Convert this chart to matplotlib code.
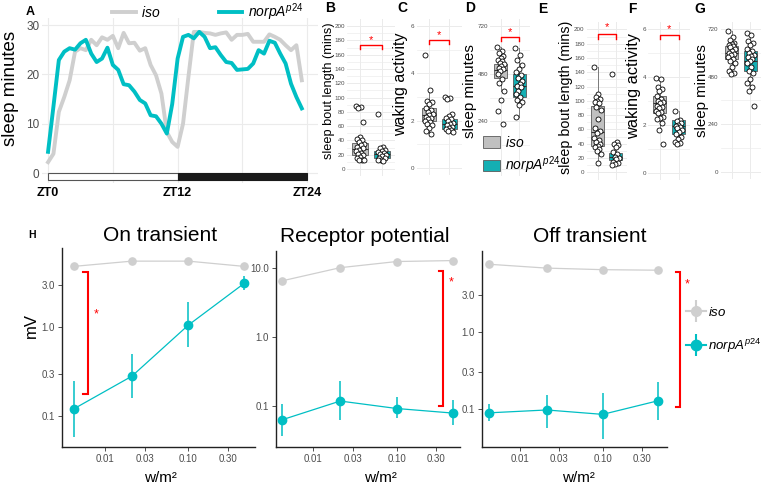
import numpy as np
import matplotlib
matplotlib.use('Agg')
import matplotlib.pyplot as plt
from matplotlib.patches import Rectangle, Patch
from matplotlib.lines import Line2D

plt.rcParams['font.family'] = ['Liberation Sans', 'DejaVu Sans']
plt.rcParams['mathtext.fontset'] = 'custom'
plt.rcParams['mathtext.it'] = 'Liberation Sans:italic'
plt.rcParams['mathtext.rm'] = 'Liberation Sans'

# ---- data -------------------------------------------------------------
# A: sleep per 30 min bin over the day
zt = np.arange(0, 24, 0.5)
sleep_iso = [2.2, 3.9, 12.4, 15.4, 18.8, 24.6, 25.3, 24.9, 27.0, 25.9,
             27.5, 27.0, 27.8, 25.3, 28.4, 26.3, 26.4, 24.8, 25.3, 21.9,
             19.8, 16.1, 8.3, 6.3, 5.3, 10.0, 19.5, 28.6, 28.6, 28.4,
             28.3, 28.0, 28.3, 28.5, 27.0, 28.0, 28.0, 28.2, 26.6, 26.6,
             26.6, 28.1, 27.6, 27.0, 25.9, 24.9, 25.9, 18.8]
sleep_norp = [4.3, 13.5, 22.9, 24.6, 25.3, 25.0, 26.3, 27.0, 24.2, 22.5,
              23.2, 25.4, 21.9, 20.9, 18.0, 17.8, 16.5, 14.8, 14.1, 11.7,
              11.5, 10.0, 8.0, 14.0, 23.2, 27.6, 28.0, 27.3, 28.6, 27.6,
              25.3, 25.5, 23.9, 22.5, 22.3, 20.9, 21.0, 21.1, 22.2, 24.9,
              24.2, 26.8, 26.4, 24.2, 22.2, 18.1, 15.4, 13.1]

# B-G: individual flies and box stats (q1, median, q3, whisker low, whisker high)
B_iso = [88, 87, 86, 66, 45, 42, 40, 38, 35, 33, 31, 29, 27, 25, 23, 21, 19, 17, 15, 13, 12, 12]
B_norp = [77, 31, 29, 27, 25, 24, 22, 21, 20, 18, 16, 15, 13, 12, 11]
B_box_iso = [20, 28, 36, 12, 45]
B_box_norp = [16, 21, 25, 11, 31]

C_iso = [4.78, 3.3, 2.85, 2.8, 2.7, 2.55, 2.45, 2.35, 2.28, 2.22, 2.15, 2.1, 2.05, 2.0,
         1.95, 1.88, 1.8, 1.7, 1.55, 1.45]
C_norp = [3.02, 2.95, 2.9, 2.3, 2.2, 2.1, 2.05, 1.98, 1.92, 1.85, 1.8, 1.75, 1.7, 1.65,
          1.6, 1.55, 1.5]
C_box_iso = [2.0, 2.22, 2.52, 1.45, 3.3]
C_box_norp = [1.63, 1.85, 2.08, 1.5, 2.3]

D_iso = [615, 595, 585, 568, 560, 551, 543, 535, 527, 518, 510, 502, 495, 477, 452, 435,
         394, 347, 294, 228]
D_norp = [610, 575, 550, 525, 505, 490, 475, 460, 445, 430, 420, 412, 395, 380, 365, 350,
          340, 325, 261]
D_box_iso = [457, 497, 530, 394, 615]
D_box_norp = [364, 419, 480, 261, 610]

E_iso = [148, 110, 105, 103, 100, 99, 97, 92, 87, 74, 62, 58, 55, 48, 45, 43, 40, 37, 35,
         32, 30, 25, 13]
E_norp = [138, 42, 40, 38, 35, 28, 25, 22, 20, 18, 15, 13, 12, 10]
E_box_iso = [37, 57, 93, 13, 148]
E_box_norp = [17, 22, 27, 10, 42]

F_iso = [3.95, 3.9, 3.6, 3.5, 3.4, 3.2, 3.1, 3.0, 2.95, 2.9, 2.8, 2.75, 2.7, 2.6, 2.55,
         2.5, 2.35, 2.3, 2.25, 2.1, 1.8, 1.2]
F_norp = [2.6, 2.2, 2.15, 2.1, 2.0, 1.95, 1.9, 1.85, 1.8, 1.7, 1.6, 1.5, 1.4, 1.3, 1.25, 1.2]
F_box_iso = [2.49, 2.9, 3.23, 1.8, 3.95]
F_box_norp = [1.6, 1.96, 2.2, 1.2, 2.6]

G_iso = [710, 680, 665, 650, 645, 640, 635, 630, 620, 610, 600, 595, 590, 580, 570, 560,
         550, 530, 510, 500, 495]
G_norp = [700, 690, 660, 650, 640, 620, 610, 600, 590, 585, 580, 570, 560, 550, 530, 510,
          500, 470, 450, 430, 410, 334]
G_box_iso = [569, 602, 635, 495, 710]
G_box_norp = [510, 560, 610, 410, 700]

# H: ERG components vs light intensity
light = [0.0042, 0.021, 0.1, 0.47]
on_iso = [4.8, 5.5, 5.5, 4.8]
on_norp = [0.12, 0.28, 1.05, 3.1]
on_norp_lo = [0.058, 0.16, 0.59, 2.6]
on_norp_hi = [0.25, 0.5, 1.93, 3.7]
rp_iso = [6.5, 10.1, 12.4, 12.8]
rp_norp = [0.063, 0.118, 0.092, 0.079]
rp_norp_lo = [0.037, 0.062, 0.066, 0.0525]
rp_norp_hi = [0.108, 0.23, 0.134, 0.124]
off_iso = [7.4, 6.6, 6.3, 6.2]
off_norp = [0.09, 0.098, 0.086, 0.129]
off_norp_lo = [0.071, 0.058, 0.042, 0.072]
off_norp_hi = [0.117, 0.154, 0.164, 0.222]

# ---- figure -----------------------------------------------------------
W, H = 764, 490
fig = plt.figure(figsize=(W / 100, H / 100), dpi=100)

def px(l, t, r, b):
    return [l / W, 1 - b / H, (r - l) / W, (b - t) / H]

def ftext(x, y, s, **kw):
    fig.text(x / W, 1 - y / H, s, ha=kw.pop('ha', 'center'), va=kw.pop('va', 'center'), **kw)

TEAL = '#00BFC4'
GREY = '#CFCFCF'
BOX_TEAL = '#14AFB3'
BOX_GREY = '#C0C0C0'
GRID = '#EBEBEB'
TICK = '#4D4D4D'
ISO_LAB = r'$iso$'
NORP_LAB = r'$norpA^{p24}$'

# ---- A ----
axA = fig.add_axes(px(42, 17.6, 318, 182.9))
axA.plot(zt, sleep_iso, color=GREY, lw=2.8)
axA.plot(zt, sleep_norp, color=TEAL, lw=2.8)
axA.add_patch(Rectangle((0, -1.4), 12, 1.4, fc='white', ec='#555555', lw=0.8))
axA.add_patch(Rectangle((12, -1.4), 12, 1.4, fc='#1A1A1A', ec='#1A1A1A', lw=0.8))
axA.set_xlim(-0.56, 25.0)
axA.set_ylim(-2, 31.5)
axA.set_yticks([0, 10, 20, 30])
axA.set_xticks([0, 12, 24])
axA.set_xticklabels(['ZT0', 'ZT12', 'ZT24'], fontweight='bold', fontsize=9)
axA.set_xticks([6, 18], minor=True)
axA.grid(True, which='both', axis='x', color=GRID, lw=0.8)
axA.grid(True, which='major', axis='y', color=GRID, lw=0.8)
axA.set_axisbelow(True)
axA.tick_params(axis='y', labelsize=8.5, labelcolor=TICK, length=0, pad=2)
axA.tick_params(axis='x', which='both', length=0, pad=3)
for s in axA.spines.values():
    s.set_visible(False)
ftext(11, 88, 'sleep minutes', rotation=90, fontsize=13.5)
ftext(30, 12, 'A', fontweight='bold', fontsize=9)
fig.legend([Line2D([], [], color=GREY, lw=2.8), Line2D([], [], color=TEAL, lw=2.8)],
           [ISO_LAB, NORP_LAB], loc='center left', bbox_to_anchor=(112 / W, 1 - 12 / H),
           ncol=2, frameon=False, fontsize=10, handlelength=1.7, handletextpad=0.4,
           columnspacing=4.2, borderpad=0, borderaxespad=0)

# ---- B-G ----
def boxpanel(rect, iso, norp, box_iso, box_norp, ylim, ticks, minor, ylabel, lab_xy,
             letter, let_xy, bracket=None):
    ax = fig.add_axes(px(*rect))
    stats = []
    for b in (box_iso, box_norp):
        stats.append(dict(q1=b[0], med=b[1], q3=b[2], whislo=b[3], whishi=b[4]))
    bp = ax.bxp(stats, positions=[1, 2], widths=0.72, showfliers=False, showcaps=False,
                patch_artist=True,
                boxprops=dict(ec='#5A5A5A', lw=0.6),
                medianprops=dict(color='#333333', lw=0.8),
                whiskerprops=dict(color='#7A7A7A', lw=0.7))
    bp['boxes'][0].set_facecolor(BOX_GREY)
    bp['boxes'][1].set_facecolor(BOX_TEAL)
    for pos, pts in ((1, iso), (2, norp)):
        n = len(pts)
        jit = ((np.arange(n) * 0.618) % 1 - 0.5) * 0.4
        ax.scatter(pos + jit, pts, s=13, facecolor='white', edgecolor='black',
                   lw=0.6, zorder=4)
    if bracket is not None:
        ylo, yhi, ystar = bracket
        ax.plot([1, 1, 2, 2], [ylo, yhi, yhi, ylo], color='red', lw=1.0)
        ax.text(1.5, ystar, '*', color='red', ha='center', va='center', fontsize=8)
    ax.set_xlim(0.4, 2.6)
    ax.set_ylim(*ylim)
    ax.set_yticks(ticks)
    ax.set_yticks(minor, minor=True)
    ax.set_xticks([1, 2])
    ax.set_xticklabels([])
    ax.grid(True, which='major', color=GRID, lw=0.7)
    ax.grid(True, which='minor', axis='y', color=GRID, lw=0.45)
    ax.set_axisbelow(True)
    ax.tick_params(which='both', length=0)
    ax.tick_params(axis='y', labelsize=4.5, labelcolor=TICK, pad=1.5)
    for s in ax.spines.values():
        s.set_visible(False)
    ftext(lab_xy[0], lab_xy[1], ylabel, rotation=90, fontsize=lab_xy[2])
    ftext(let_xy[0], let_xy[1], letter, fontweight='bold', fontsize=10)
    return ax

boxpanel((347, 18.9, 395, 176.2), B_iso, B_norp, B_box_iso, B_box_norp, (-10, 210),
         range(0, 201, 20), range(10, 200, 20), 'sleep bout length (mins)', (329, 91, 9.2),
         'B', (330, 8), bracket=(167.5, 173.5, 181))
boxpanel((416.7, 18.9, 461.7, 175.1), C_iso, C_norp, C_box_iso, C_box_norp, (-0.3, 6.3),
         [0, 2, 4, 6], [1, 3, 5], 'waking activity', (401, 84, 11.5),
         'C', (402, 8), bracket=(5.22, 5.41, 5.62))
boxpanel((490, 18.9, 530, 176.2), D_iso, D_norp, D_box_iso, D_box_norp, (-36, 756),
         [0, 240, 480, 720], [120, 360, 600], 'sleep minutes', (470, 91, 11),
         'D', (470, 8), bracket=(646, 664, 692))
boxpanel((586.7, 22.2, 626.7, 179.5), E_iso, E_norp, E_box_iso, E_box_norp, (-10, 210),
         range(0, 201, 20), range(10, 200, 20), 'sleep bout length (mins)', (566, 97, 10.3),
         'E', (543, 9), bracket=(187, 194, 203))
boxpanel((648.3, 22.1, 690, 179.9), F_iso, F_norp, F_box_iso, F_box_norp, (-0.3, 6.3),
         [0, 2, 4, 6], [1, 3, 5], 'waking activity', (634, 86, 11.8),
         'F', (632, 9), bracket=(5.6, 5.78, 5.99))
boxpanel((720.7, 22.2, 761.3, 178.8), G_iso, G_norp, G_box_iso, G_box_norp, (-36, 756),
         [0, 240, 480, 720], [120, 360, 600], 'sleep minutes', (702, 91, 10.8),
         'G', (700, 9))

fig.legend([Patch(fc=BOX_GREY, ec='#5A5A5A', lw=0.6), Patch(fc=BOX_TEAL, ec='#5A5A5A', lw=0.6)],
           [ISO_LAB, NORP_LAB], loc='upper left', bbox_to_anchor=(483 / W, 1 - 135 / H),
           frameon=False, fontsize=10, handlelength=1.2, handleheight=0.9,
           handletextpad=0.4, labelspacing=0.35, borderpad=0, borderaxespad=0)

# ---- H ----
def ergpanel(rect, xlim, ylim, yticks, iso, norp, lo, hi, title, title_xy, xlab_x, br, star):
    ax = fig.add_axes(px(*rect))
    ax.set_xscale('log')
    ax.set_yscale('log')
    ax.plot(light, iso, color=GREY, lw=0.9, marker='o', ms=5.2, zorder=2)
    yerr = [np.array(norp) - np.array(lo), np.array(hi) - np.array(norp)]
    ax.errorbar(light, norp, yerr=yerr, color=TEAL, lw=0.9, marker='o', ms=6,
                elinewidth=1.1, capsize=0, zorder=3)
    bx, btx, btop, bbot = br
    ax.plot([btx, bx, bx, btx], [btop, btop, bbot, bbot], color='red', lw=1.5,
            clip_on=False, solid_joinstyle='miter')
    ax.text(star[0], star[1], '*', color='red', fontsize=9, ha='center', va='center',
            clip_on=False)
    ax.set_xlim(*xlim)
    ax.set_ylim(*ylim)
    ax.set_xticks([0.01, 0.03, 0.1, 0.3])
    ax.set_xticklabels(['0.01', '0.03', '0.10', '0.30'])
    ax.set_yticks(yticks)
    ax.set_yticklabels(['%.1f' % v for v in yticks])
    ax.minorticks_off()
    ax.tick_params(labelsize=7, labelcolor=TICK, length=3, width=0.6, color='#333333', pad=2)
    for side in ('top', 'right'):
        ax.spines[side].set_visible(False)
    for side in ('left', 'bottom'):
        ax.spines[side].set_linewidth(1.0)
        ax.spines[side].set_color('#222222')
    ftext(title_xy[0], title_xy[1], title, fontsize=15)
    ftext(xlab_x, 478, 'w/m²', fontsize=11)
    return ax

ergpanel((62, 248, 255, 447), (10 ** -2.516, 10 ** -0.199), (10 ** -1.348, 10 ** 0.888),
         [0.1, 0.3, 1.0, 3.0], on_iso, on_norp, on_norp_lo, on_norp_hi,
         'On transient', (160, 235), 160, (0.0063, 0.00544, 4.2, 0.177), (0.0079, 1.4))
ergpanel((275.7, 251, 460, 447), (10 ** -2.451, 10 ** -0.241), (10 ** -1.594, 10 ** 1.246),
         [0.1, 1.0, 10.0], rp_iso, rp_norp, rp_norp_lo, rp_norp_hi,
         'Receptor potential', (365, 236), 380, (0.356, 0.32, 9.1, 0.101), (0.447, 6.1))
ergpanel((482, 251, 667, 447), (10 ** -2.46, 10 ** -0.222), (10 ** -1.486, 10 ** 1.04),
         [0.1, 0.3, 1.0, 3.0], off_iso, off_norp, off_norp_lo, off_norp_hi,
         'Off transient', (590, 236), 578, (0.86, 0.77, 5.9, 0.106), (1.05, 4.1))
ftext(31.7, 325, 'mV', rotation=90, fontsize=12)
ftext(31.7, 235, 'H', fontweight='bold', fontsize=7.5)

def cross(c, ms):
    return (Line2D([], [], color=c, lw=1.5, marker='|', ms=16, mew=1.5),
            Line2D([], [], color=c, ls='none', marker='o', ms=ms))

fig.legend([cross(GREY, 7), cross(TEAL, 7.5)], [ISO_LAB, NORP_LAB], loc='upper left',
           bbox_to_anchor=(686 / W, 1 - 306 / H), frameon=False, fontsize=9.5,
           handlelength=1.5, handletextpad=0.2, labelspacing=1.35, borderpad=0,
           borderaxespad=0)

fig.savefig('out.png', dpi=100)
